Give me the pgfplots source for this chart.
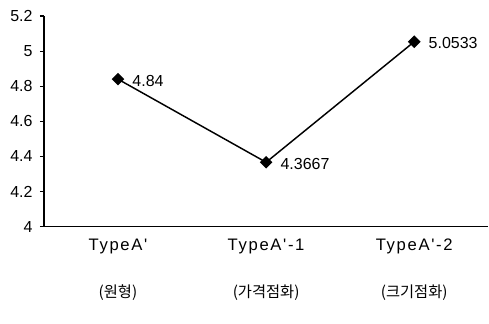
\documentclass[border=0pt]{standalone}
\usepackage{fontspec}
\setmainfont{Liberation Sans}
\newfontfamily\cjk{Noto Sans CJK KR}
\newfontfamily\spaced[LetterSpace=10]{Liberation Sans}
\usepackage{pgfplots}
\pgfplotsset{compat=1.18}
\begin{document}
\begin{tikzpicture}
\begin{axis}[
  scale only axis,
  width=333.75pt, height=158.25pt,
  xmin=-0.5, xmax=2.5, ymin=4, ymax=5.2,
  axis x line*=bottom, axis y line*=left,
  axis line style={line width=1.1pt, -},
  xtick={0,1,2},
  xticklabels={{\spaced\fontsize{12.5}{14}\selectfont TypeA'}\\[22pt]{\cjk (원형)}, {\spaced\fontsize{12.5}{14}\selectfont TypeA'-1}\\[22pt]{\cjk (가격점화)}, {\spaced\fontsize{12.5}{14}\selectfont TypeA'-2}\\[22pt]{\cjk (크기점화)}},
  xticklabel style={align=center, font=\fontsize{11.5}{13}\selectfont, yshift=-3pt},
  x tick style={draw=none},
  extra x ticks={0.5,1.5},
  extra x tick labels={},
  extra x tick style={tick style={draw=black, line width=0.8pt}, major tick length=4pt, tick align=inside},
  ytick={4,4.2,4.4,4.6,4.8,5,5.2},
  yticklabels={4,4.2,4.4,4.6,4.8,5,5.2},
  yticklabel style={font=\fontsize{12}{14}\selectfont, xshift=-2pt},
  y tick style={black, line width=0.8pt},
  tick align=outside, major tick length=3pt,
  clip=false,
  nodes near coords,
  point meta=explicit symbolic,
  every node near coord/.append style={anchor=west, xshift=7pt, yshift=-1pt, font=\fontsize{12}{14}\selectfont, text=black},
]
\addplot[black, line width=1.1pt, mark=square*, mark size=2.8pt, mark options={fill=black, rotate=45}]
  table[meta=label] {
x y label
0 4.84 4.84
1 4.3667 4.3667
2 5.0533 5.0533
};
\end{axis}
\path ([shift={(-33pt,-72.75pt)}]current axis.south west) rectangle ([shift={(0pt,12pt)}]current axis.north east);
\end{tikzpicture}
\end{document}
